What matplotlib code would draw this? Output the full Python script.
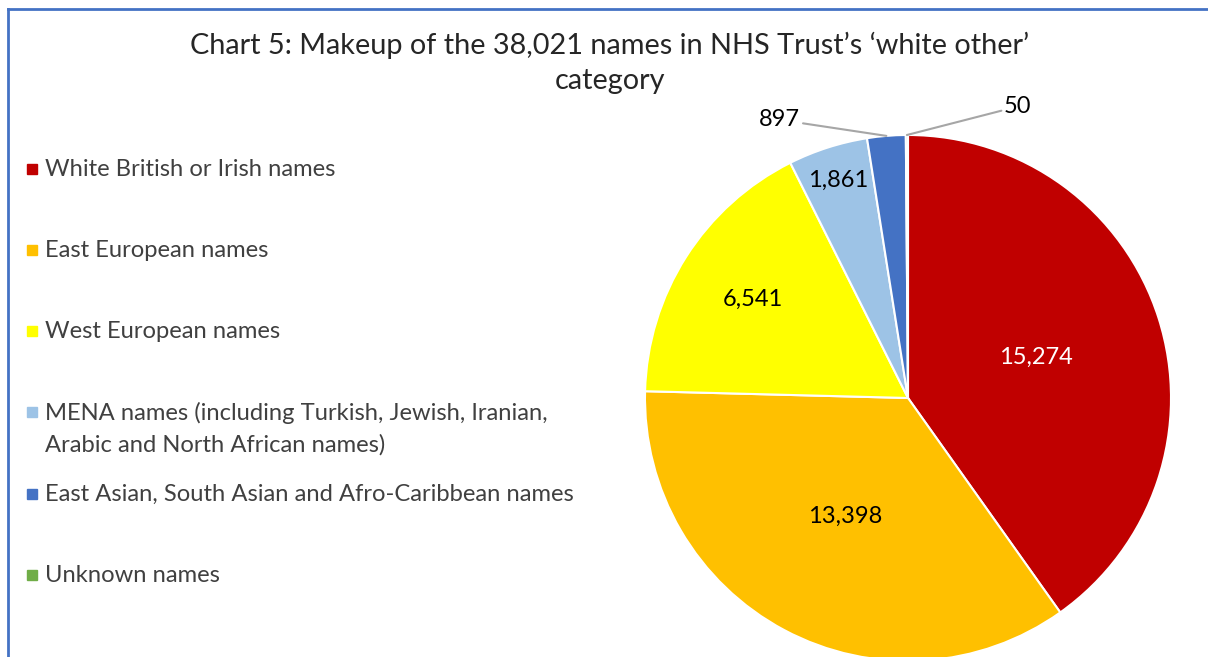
import numpy as np
import matplotlib.pyplot as plt
from matplotlib.lines import Line2D
from matplotlib.patches import Rectangle

plt.rcParams['font.family'] = ['Lato', 'DejaVu Sans']

categories = ["White British or Irish names",
              "East European names",
              "West European names",
              "MENA names (including Turkish, Jewish, Iranian,\nArabic and North African names)",
              "East Asian, South Asian and Afro-Caribbean names",
              "Unknown names"]
counts = [15274, 13398, 6541, 1861, 897, 50]
colors = ["#C00000", "#FFC000", "#FFFF00", "#9DC3E6", "#4472C4", "#70AD47"]
label_colors = ["white", "#000000", "#000000", "#000000", "#000000", "#000000"]

W, H = 1208, 657
fig = plt.figure(figsize=(W / 100, H / 100), dpi=100)

# pie axes: centre (908, 398) px, radius 263 px
cx, cy, R = 908, 398, 263
ax = fig.add_axes([(cx - R) / W, (H - cy - R) / H, 2 * R / W, 2 * R / H])
wedges, _ = ax.pie(counts, colors=colors, startangle=90, counterclock=False,
                   wedgeprops=dict(edgecolor="white", linewidth=1.5))
ax.set_xlim(-1, 1)
ax.set_ylim(-1, 1)
ax.set_aspect("equal")
ax.axis("off")

# data labels: inside for the big slices, leader lines for the two small ones
inner_r = [0.51, 0.51, 0.70, 0.87]
for i, w in enumerate(wedges):
    mid = np.deg2rad((w.theta1 + w.theta2) / 2)
    txt = f"{counts[i]:,}"
    if i < len(inner_r):
        ax.text(inner_r[i] * np.cos(mid), inner_r[i] * np.sin(mid), txt,
                ha="center", va="center", fontsize=17, color=label_colors[i])
    else:
        ax_x, ax_y = 1.0 * np.cos(mid), 1.0 * np.sin(mid)
        if i == 4:
            off, ha = (-62, 4), "right"
        else:
            off, ha = (70, 13), "left"
        ax.annotate(txt, xy=(ax_x, ax_y), xytext=off, textcoords="offset points",
                    ha=ha, va="bottom", fontsize=17, color="#000000",
                    annotation_clip=False,
                    arrowprops=dict(arrowstyle="-", color="#A6A6A6", lw=1.5,
                                    shrinkA=0, shrinkB=0))

# title
fig.text(610 / W, 1 - 45 / H, "Chart 5: Makeup of the 38,021 names in NHS Trust\u2019s \u2018white other\u2019",
         ha="center", va="center", fontsize=20.8, color="#262626")
fig.text(610 / W, 1 - 81 / H, "category",
         ha="center", va="center", fontsize=20.8, color="#262626")

# legend
leg_y = [169, 250, 331, 412, 494, 575]
for i, name in enumerate(categories):
    y = leg_y[i]
    fig.patches.append(Rectangle(((27) / W, 1 - (y + 5) / H), 10 / W, 10 / H,
                                 transform=fig.transFigure, color=colors[i]))
    fig.text(45 / W, 1 - (y - 10) / H, name, ha="left", va="top",
             fontsize=17.1, color="#404040", linespacing=1.55)

# frame lines
frame = "#4472C4"
fig.add_artist(Line2D([8 / W, 8 / W], [0, 1 - 9 / H], color=frame, lw=2,
                      transform=fig.transFigure))
fig.add_artist(Line2D([8 / W, 1], [1 - 9 / H, 1 - 9 / H], color=frame, lw=2,
                      transform=fig.transFigure))

fig.savefig("out.png", dpi=100)
